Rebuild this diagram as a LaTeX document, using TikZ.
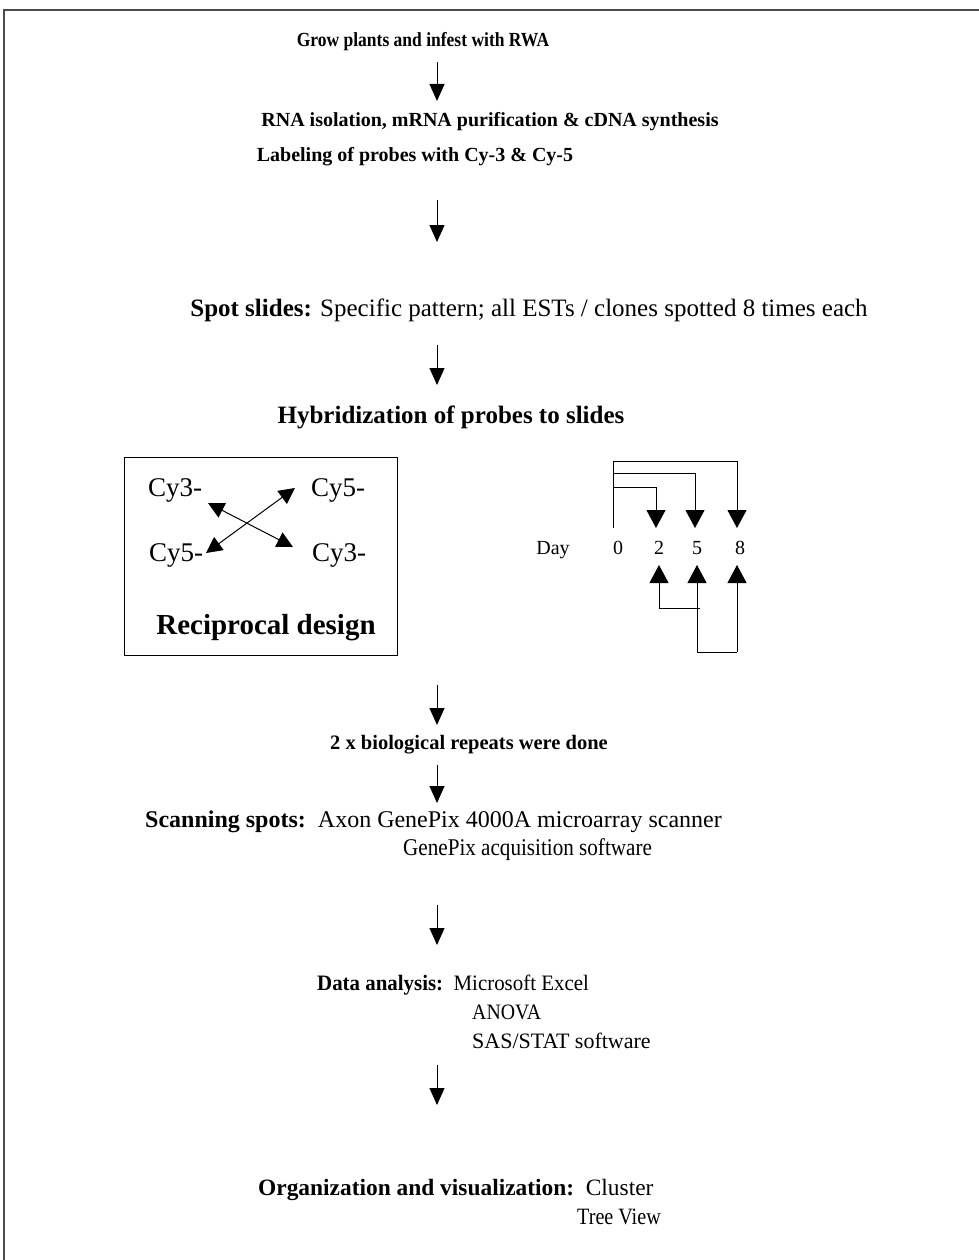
\documentclass[tikz,border=0pt]{standalone}
\usepackage{graphicx}
\usepackage{fontspec}
\setmainfont{Liberation Serif}
\usetikzlibrary{arrows.meta}
\newcommand\pxsize[1]{\fontsize{#1}{#1}\selectfont}
\newcommand\narrow[2]{\scalebox{#1}[1]{#2}}
\tikzset{stage/.style={font=\bfseries, inner sep=0pt},
 plain/.style={inner sep=0pt},
 flow/.style={-{Triangle[width=15pt,length=17pt]}, line width=1pt},
 link/.style={line width=1pt},
 linkto/.style={link, -{Triangle[width=19pt,length=18pt]}},
 swap/.style={line width=1pt, {Triangle[width=16pt,length=16pt]}-{Triangle[width=16pt,length=16pt]}},
 }

\begin{document}
\begin{tikzpicture}[x=1pt,y=-1pt]
    \useasboundingbox (0,0) rectangle (979,1260);
    % frame
    \draw[line width=2.5pt, gray!60!black] (979,10) -- (4,10) -- (4,1260);

    % main steps
    \node[stage, font=\bfseries\pxsize{20}] (grow) at (423,42) {\narrow{0.875}{Grow plants and infest with RWA}};
    \node[stage, font=\bfseries\pxsize{20}] (rna) at (490,122) {RNA isolation, mRNA purification \& cDNA synthesis};
    \node[stage, font=\bfseries\pxsize{20}] (label) at (415,157) {Labeling of probes with Cy-3 \& Cy-5};
    \node[plain, font=\pxsize{25}] (spot) at (529,310) {\textbf{Spot slides:} Specific pattern; all ESTs / clones spotted 8 times each};
    \node[stage, font=\bfseries\pxsize{25}] (hyb) at (451,417) {Hybridization of probes to slides};
    \node[stage, font=\bfseries\pxsize{20.5}] (reps) at (469,745) {2 x biological repeats were done};
    \node[plain, font=\pxsize{24}, anchor=west] (scan) at (145,822) {\textbf{Scanning spots:}\ \ Axon GenePix 4000A microarray scanner};
    \node[plain, font=\pxsize{24}, anchor=west] (gpx) at (403,850) {\narrow{0.88}{GenePix acquisition software}};
    \node[plain, font=\pxsize{22}, anchor=west] (data) at (317,985) {\narrow{0.95}{\textbf{Data analysis:}\ \ Microsoft Excel}};
    \node[plain, font=\pxsize{22}, anchor=west] (anova) at (472,1012) {\narrow{0.9}{ANOVA}};
    \node[plain, font=\pxsize{22}, anchor=west] (sas) at (472,1041) {SAS/STAT software};
    \node[plain, font=\pxsize{23.4}, anchor=west] (org) at (258,1190) {\textbf{Organization and visualization:}\ \ Cluster};
    \node[plain, font=\pxsize{23.4}, anchor=west] (tree) at (577,1217) {\narrow{0.86}{Tree View}};

    % arrows between steps
    \coordinate (a1) at (437,62);   \coordinate (b1) at (437,101);
    \coordinate (a2) at (437,200);  \coordinate (b2) at (437,242);
    \coordinate (a3) at (437,345);  \coordinate (b3) at (437,385);
    \coordinate (a4) at (437,685);  \coordinate (b4) at (437,725);
    \coordinate (a5) at (437,765);  \coordinate (b5) at (437,803);
    \coordinate (a6) at (437,905);  \coordinate (b6) at (437,945);
    \coordinate (a7) at (437,1065); \coordinate (b7) at (437,1105);
    \foreach \i in {1,...,7}
        \draw[flow] (a\i) -- (b\i);

    % reciprocal design
    \draw[line width=1pt] (124,457) rectangle (397,655);
    \node[plain, font=\pxsize{27}] (tl) at (175,490) {Cy3-};
    \node[plain, font=\pxsize{27}] (tr) at (338,490) {Cy5-};
    \node[plain, font=\pxsize{27}] (bl) at (176,555) {Cy5-};
    \node[plain, font=\pxsize{27}] (br) at (339,555) {Cy3-};
    \node[stage, font=\bfseries\pxsize{29}] (recip) at (266,628) {Reciprocal design};
    \coordinate (x1) at (208,503); \coordinate (x2) at (293,547);
    \coordinate (x3) at (206,553); \coordinate (x4) at (295,488);
    \draw[swap] (x1) -- (x2);
    \draw[swap] (x3) -- (x4);

    % time points
    \node[plain, font=\pxsize{20}] (day) at (553,550) {Day};
    \node[plain, font=\pxsize{20}] (d0) at (618,548) {0};
    \node[plain, font=\pxsize{20}] (d2) at (659,548) {2};
    \node[plain, font=\pxsize{20}] (d5) at (697,548) {5};
    \node[plain, font=\pxsize{20}] (d8) at (740,548) {8};
    \coordinate (o) at (613,528);
    \coordinate (t8) at (613,461);
    \coordinate (t5) at (613,473);
    \coordinate (t2) at (613,487);
    \draw[link] (o) -- (t8);
    \draw[linkto] (t8) -| (737,528);
    \draw[linkto] (t5) -| (695,528);
    \draw[linkto] (t2) -| (656,528);
    \coordinate (u2) at (659,608);
    \coordinate (u5) at (697,652);
    \coordinate (u8) at (737,652);
    \draw[linkto] (u2) -- (659,565);
    \draw[linkto] (u5) -- (697,565);
    \draw[linkto] (u8) -- (737,565);
    \draw[link] (u2) -- (700,608);
    \draw[link] (u5) -- (u8);
\end{tikzpicture}
\end{document}
